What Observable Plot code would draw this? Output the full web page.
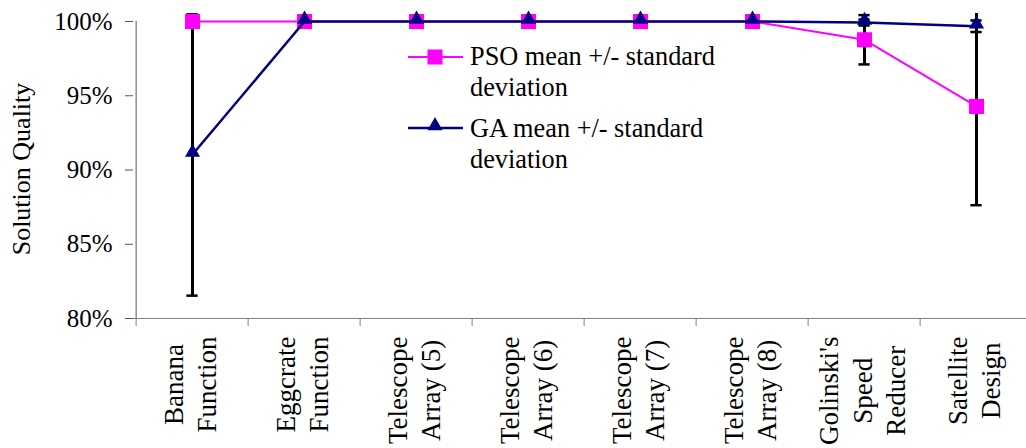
<!DOCTYPE html>
<html><head><meta charset="utf-8">
<script src="https://cdn.jsdelivr.net/npm/d3@7"></script>
<script src="https://cdn.jsdelivr.net/npm/@observablehq/plot@0.6"></script>
<style>
body{margin:0;background:#fff}
#chart{position:relative;width:1026px;height:448px;overflow:hidden}
#chart svg, #chart svg text{font-family:"Liberation Serif", serif}
</style>
</head><body><div id="chart"></div>
<script>
// ---- data ----
const categories = ["Banana\nFunction", "Eggcrate\nFunction", "Telescope\nArray (5)", "Telescope\nArray (6)", "Telescope\nArray (7)", "Telescope\nArray (8)", "Golinski's\nSpeed\nReducer", "Satellite\nDesign"];
const psoMean = [100, 100, 100, 100, 100, 100, 98.77, 94.28];
const psoSD   = [0, 0, 0, 0, 0, 0, 1.66, 6.65];
const gaMean  = [91.04, 100, 100, 100, 100, 100, 99.93, 99.68];
const gaSD    = [9.5, 0, 0, 0, 0, 0, 0.2, 0.39];
const yTicks  = [80, 85, 90, 95, 100];
const seriesNames = ["PSO mean +/- standard\ndeviation", "GA mean +/- standard\ndeviation"];

// ---- layout ----
const W = 1026, H = 448;
const pLeft = 133, pRight = 1035, pTop = 21, pBottom = 318;
const bw = (pRight - pLeft) / categories.length;
const font = "Liberation Serif";
const PINK = "#FF00FF", NAVY = "#000080";
const LABEL_FS = 27, LABEL_LH = 33.5;

const psoData = categories.map((c, i) => ({c, v: psoMean[i]}));
const gaData = categories.map((c, i) => ({c, v: gaMean[i]}));
const err = [];
categories.forEach((c, i) => {
  if (psoSD[i] > 0) err.push({c, lo: psoMean[i] - psoSD[i], hi: psoMean[i] + psoSD[i]});
  if (gaSD[i] > 0) err.push({c, lo: gaMean[i] - gaSD[i], hi: gaMean[i] + gaSD[i]});
});
const caps = err.flatMap(d => [{c: d.c, v: d.lo}, {c: d.c, v: d.hi}]);

const plot = Plot.plot({
  width: W, height: H,
  marginLeft: pLeft, marginRight: 0, marginTop: 13, marginBottom: H - pBottom,
  style: {fontFamily: font, fontSize: "26px", color: "#000", background: "#fff", overflow: "visible"},
  x: {type: "band", domain: categories, range: [pLeft, pRight], padding: 0, label: null},
  y: {domain: [80, 100], range: [pBottom, pTop], label: null},
  marks: [
    Plot.axisY({ticks: yTicks, tickFormat: d => d + "%", tickSize: 8, tickPadding: 13, fontSize: 25, fontFamily: font, stroke: "#555", label: null}),
    Plot.ruleX([categories[0]], {x: d => d, y1: 80, y2: 100, dx: -bw / 2, stroke: "#555"}),
    Plot.ruleY([80], {stroke: "#808080"}),
    Plot.axisX({tickSize: 8, tickFormat: () => "", dx: -bw / 2, stroke: "#808080", label: null}),
    Plot.text(categories, {x: d => d, frameAnchor: "bottom", dy: 18, rotate: -90, textAnchor: "end", lineAnchor: "middle", lineHeight: LABEL_LH / LABEL_FS, fontSize: LABEL_FS, fontFamily: font}),
    Plot.text(["Solution Quality"], {frameAnchor: "left", dx: -111.5, dy: 3, rotate: -90, textAnchor: "middle", fontSize: 26, fontFamily: font}),
    Plot.ruleX(err, {x: "c", y1: "lo", y2: "hi", stroke: "#000", strokeWidth: 3, clip: true}),
    Plot.tickY(caps, {x: "c", y: "v", insetLeft: (bw - 12) / 2, insetRight: (bw - 12) / 2, stroke: "#000", strokeWidth: 2.5, clip: true}),
    Plot.line(psoData, {x: "c", y: "v", stroke: PINK, strokeWidth: 2}),
    Plot.dot(psoData, {x: "c", y: "v", symbol: "square", r: 8.5, fill: PINK, stroke: "none"}),
    Plot.line(gaData, {x: "c", y: "v", stroke: NAVY, strokeWidth: 2.5}),
    Plot.dot(gaData, {x: "c", y: "v", symbol: "triangle", r: 5.6, fill: NAVY, stroke: "none", dy: -2.2})
  ]
});
document.getElementById("chart").appendChild(plot);

// center the lines of each multi-line category label (as in the original chart)
const svg = d3.select(plot);
svg.selectAll("text").each(function() {
  const tspans = Array.from(this.querySelectorAll("tspan"));
  const n = tspans.length;
  if (n < 2) return;
  let max = 0;
  tspans.forEach(t => { max = Math.max(max, t.getComputedTextLength()); });
  this.setAttribute("text-anchor", "middle");
  tspans.forEach((t, k) => {
    t.removeAttribute("dy");
    t.setAttribute("x", -max / 2);
    t.setAttribute("y", (k - (n - 1) / 2) * LABEL_LH + 7);
  });
});

// legend
const lg = svg.append("g").attr("font-family", font).attr("font-size", 26.3).attr("text-anchor", "start");
const rows = [
  {name: seriesNames[0], color: PINK, sym: d3.symbolSquare, r: 8.5, cy: 57, base: 65, sw: 2, dy: 0},
  {name: seriesNames[1], color: NAVY, sym: d3.symbolTriangle, r: 5.6, cy: 128, base: 137, sw: 2.5, dy: -2.2}
];
rows.forEach(r => {
  lg.append("line").attr("x1", 408).attr("x2", 463).attr("y1", r.cy).attr("y2", r.cy).attr("stroke", r.color).attr("stroke-width", r.sw);
  lg.append("path").attr("d", d3.symbol(r.sym, Math.PI * r.r * r.r)()).attr("transform", `translate(435,${r.cy + r.dy})`).attr("fill", r.color);
  const t = lg.append("text").attr("x", 470).attr("y", r.base);
  r.name.split("\n").forEach((s, k) => t.append("tspan").attr("x", 470).attr("dy", k ? 31 : 0).text(s));
});
</script>
</body></html>
